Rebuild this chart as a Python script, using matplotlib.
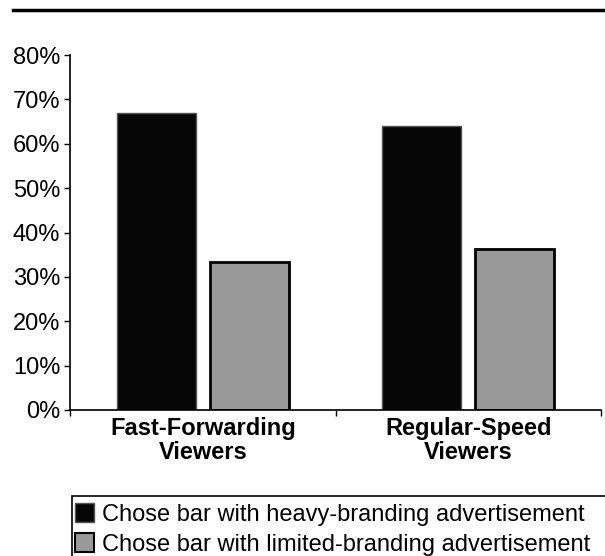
import matplotlib
matplotlib.use('Agg')
import matplotlib.pyplot as plt
from matplotlib.patches import Patch, Rectangle
from matplotlib.lines import Line2D
import numpy as np

plt.rcParams['font.family'] = ['Liberation Sans', 'DejaVu Sans']

# Share of viewers choosing each bar, by viewing speed
groups = ['Fast-Forwarding\nViewers', 'Regular-Speed\nViewers']
heavy = [0.67, 0.64]
limited = [0.333, 0.363]
series_labels = ['Chose bar with heavy-branding advertisement',
                 'Chose bar with limited-branding advertisement']
yticks = [0.0, 0.1, 0.2, 0.3, 0.4, 0.5, 0.6, 0.7, 0.8]

W, H = 605, 556
fig = plt.figure(figsize=(W / 100, H / 100), dpi=100)
ax = fig.add_axes([70 / W, 1 - 410 / H, 531 / W, 355 / H])

x = np.arange(len(groups)) + 0.5
bw = 0.298
off = 0.1755
ax.bar(x - off, heavy, bw, color='#050505', edgecolor='#555555', linewidth=1.0)
ax.bar(x + off, limited, bw, color='#999999', edgecolor='#000000', linewidth=2.0)

ax.set_xlim(0, 2)
ax.set_ylim(0, 0.8)
ax.set_yticks(yticks)
ax.set_yticklabels([f'{int(round(v * 100))}%' for v in yticks], fontsize=17)
ax.tick_params(axis='y', direction='out', length=4, width=1, pad=3)

# category boundaries carry the ticks, group names sit centred between them
ax.set_xticks([0, 1, 2])
ax.set_xticklabels([])
ax.tick_params(axis='x', direction='out', length=4, width=1)
for xi, g in zip(x, groups):
    ax.text(xi, -0.016, g, ha='center', va='top', fontsize=17, fontweight='bold',
            linespacing=1.05, transform=ax.transData)

for s in ['top', 'right']:
    ax.spines[s].set_visible(False)
for s in ['left', 'bottom']:
    ax.spines[s].set_linewidth(1.2)

# heavy rule across the top
fig.add_artist(Line2D([13 / W, 1.0], [1 - 10 / H, 1 - 10 / H], color='black', linewidth=2.5))

# legend box runs off the right and bottom edges
fig.add_artist(Rectangle((72 / W, -0.05), 0.98, 0.05 + (556 - 496) / H,
                         fill=False, edgecolor='black', linewidth=1.2,
                         transform=fig.transFigure))
handles = [Patch(facecolor='#050505', edgecolor='#555555'),
           Patch(facecolor='#999999', edgecolor='#000000', linewidth=1.5)]
fig.legend(handles, series_labels, loc='upper left',
           bbox_to_anchor=(70 / W, 1 - 498 / H), frameon=False, fontsize=17,
           handlelength=0.8, handleheight=0.9, handletextpad=0.35,
           labelspacing=0.3, borderpad=0.2, borderaxespad=0)

fig.savefig('out.png', dpi=100)
